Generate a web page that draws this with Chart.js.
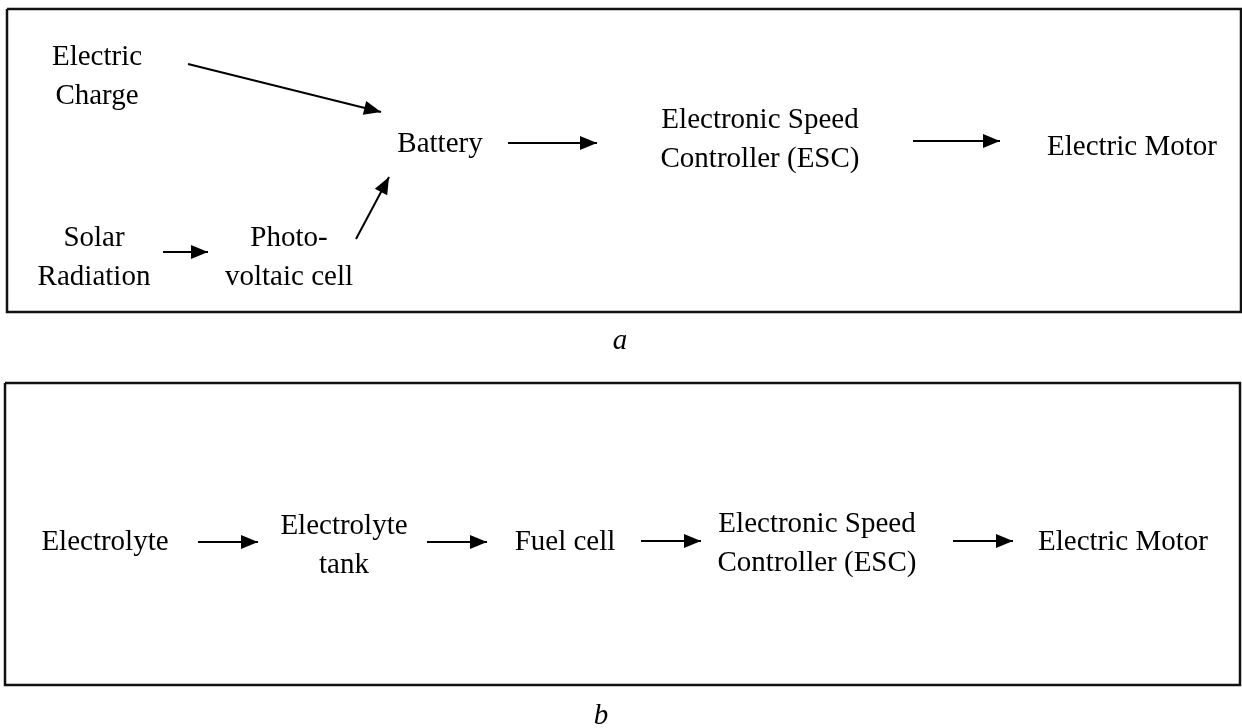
<!DOCTYPE html>
<html>
<head>
<meta charset="utf-8">
<script src="https://cdn.jsdelivr.net/npm/chart.js@4"></script>
<style>
  html, body { margin: 0; padding: 0; background: #fff; }
  #c { display: block; }
</style>
</head>
<body>
<canvas id="c" width="1242" height="728"></canvas>
<script>
// ---- Diagram data (coordinates in diagram units, mapped through the chart's scales) ----
const nodeLabels = [
  ["Electric", "Charge"],
  ["Solar", "Radiation"],
  ["Photo-", "voltaic cell"],
  ["Battery"],
  ["Electronic Speed", "Controller (ESC)"],
  ["Electric Motor"],
  ["Electrolyte"],
  ["Electrolyte", "tank"],
  ["Fuel cell"],
  ["Electronic Speed", "Controller (ESC)"],
  ["Electric Motor"]
];
const nodeX = [97, 94, 289, 440, 760, 1132, 105, 344, 565, 817, 1123];
const nodeY = [74.5, 256, 256, 142, 138, 145, 540, 544, 540, 542, 540];

const arrowFromX = [188, 163, 356, 508, 913, 198, 427, 641, 953];
const arrowFromY = [64, 252, 239, 143, 141, 542, 542, 541, 541];
const arrowToX   = [381, 208, 389, 597, 1000, 258, 487, 701, 1013];
const arrowToY   = [112, 252, 177, 143, 141, 542, 542, 541, 541];

const panelNames = ["a", "b"];
const panelLeft   = [7, 5];
const panelTop    = [9, 383];
const panelRight  = [1241, 1240];
const panelBottom = [312, 685];
const captionX = [620, 601];
const captionY = [342, 717];

// ---- Build datasets ----
const datasets = [];
// panel frames
for (let i = 0; i < panelNames.length; i++) {
  datasets.push({
    label: "frame " + panelNames[i],
    data: [
      {x: panelLeft[i], y: panelTop[i]},
      {x: panelRight[i], y: panelTop[i]},
      {x: panelRight[i], y: panelBottom[i]},
      {x: panelLeft[i], y: panelBottom[i]},
      {x: panelLeft[i], y: panelTop[i]}
    ],
    showLine: true, borderColor: "#111", borderWidth: 2.5,
    pointRadius: 0, fill: false, tension: 0, role: "frame"
  });
}
// arrows
for (let i = 0; i < arrowFromX.length; i++) {
  datasets.push({
    label: "arrow " + i,
    data: [{x: arrowFromX[i], y: arrowFromY[i]}, {x: arrowToX[i], y: arrowToY[i]}],
    showLine: true, borderColor: "#000", borderWidth: 2,
    pointRadius: 0, fill: false, tension: 0, role: "arrow"
  });
}
// nodes
datasets.push({
  label: "nodes",
  data: nodeX.map((x, i) => ({x: x, y: nodeY[i]})),
  pointRadius: 0, showLine: false, role: "nodes"
});

const FONT_SIZE = 29;
const LINE_GAP = 39;

const diagramPlugin = {
  id: "diagram",
  afterDatasetsDraw(chart) {
    const ctx = chart.ctx;
    const xs = chart.scales.x, ys = chart.scales.y;
    ctx.save();
    // arrowheads
    chart.data.datasets.forEach((ds, di) => {
      if (ds.role !== "arrow") return;
      const pts = chart.getDatasetMeta(di).data;
      const p0 = pts[0], p1 = pts[1];
      const ang = Math.atan2(p1.y - p0.y, p1.x - p0.x);
      const len = 17, half = 7;
      ctx.beginPath();
      ctx.moveTo(p1.x, p1.y);
      ctx.lineTo(p1.x - len * Math.cos(ang) + half * Math.sin(ang), p1.y - len * Math.sin(ang) - half * Math.cos(ang));
      ctx.lineTo(p1.x - len * Math.cos(ang) - half * Math.sin(ang), p1.y - len * Math.sin(ang) + half * Math.cos(ang));
      ctx.closePath();
      ctx.fillStyle = "#000";
      ctx.fill();
    });
    // node labels
    ctx.fillStyle = "#000";
    ctx.font = FONT_SIZE + "px 'Liberation Serif', 'Times New Roman', serif";
    ctx.textAlign = "center";
    ctx.textBaseline = "alphabetic";
    const capHalf = FONT_SIZE * 0.33;
    nodeLabels.forEach((lines, i) => {
      const cx = xs.getPixelForValue(nodeX[i]);
      const cy = ys.getPixelForValue(nodeY[i]);
      const n = lines.length;
      lines.forEach((t, k) => {
        const ly = cy + (k - (n - 1) / 2) * LINE_GAP;
        ctx.fillText(t, cx, ly + capHalf);
      });
    });
    // panel captions
    ctx.font = "italic 29px 'Liberation Serif', 'Times New Roman', serif";
    panelNames.forEach((t, i) => {
      const cx = xs.getPixelForValue(captionX[i]);
      const cy = ys.getPixelForValue(captionY[i]);
      ctx.fillText(t, cx, cy + 7);
    });
    ctx.restore();
  }
};

new Chart(document.getElementById("c"), {
  type: "scatter",
  data: { datasets: datasets },
  options: {
    responsive: false,
    animation: false,
    devicePixelRatio: 1,
    layout: { padding: 0 },
    plugins: { legend: { display: false }, tooltip: { enabled: false }, title: { display: false } },
    scales: {
      x: { type: "linear", min: 0, max: 1242, display: false },
      y: { type: "linear", min: 0, max: 728, reverse: true, display: false }
    },
    elements: { line: { borderCapStyle: "butt" } }
  },
  plugins: [diagramPlugin]
});
</script>
</body>
</html>
